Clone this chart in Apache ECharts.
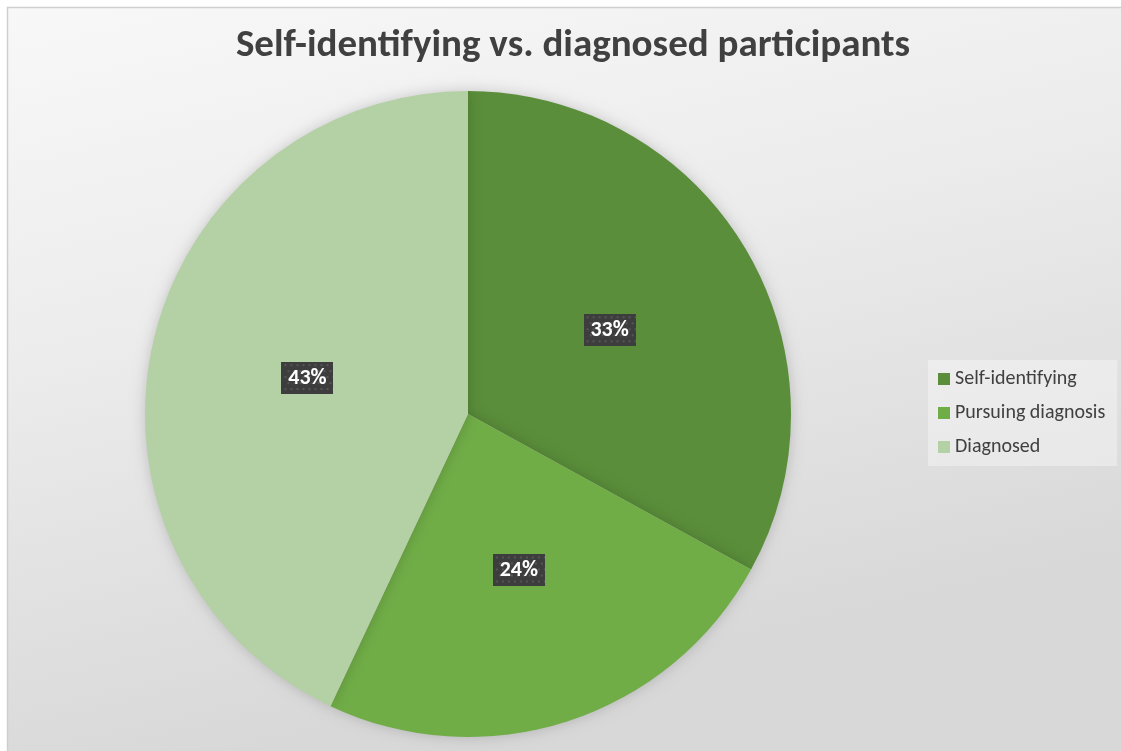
<!DOCTYPE html>
<html>
<head>
<meta charset="utf-8">
<script src="https://cdn.jsdelivr.net/npm/echarts@6/dist/echarts.min.js"></script>
<style>
html,body{margin:0;padding:0;background:#ffffff;}
#chart{width:1121px;height:751px;}
</style>
</head>
<body>
<div id="chart"></div>
<script>
const titleText = 'Self-identifying vs. diagnosed participants';
const categories = ['Self-identifying', 'Pursuing diagnosis', 'Diagnosed'];
const values = [33, 24, 43];
const colors = ['#5A8E3A', '#70AD47', '#B4D0A5'];

function dotPattern(w, h) {
  const c = document.createElement('canvas');
  c.width = w; c.height = h;
  const ctx = c.getContext('2d');
  ctx.fillStyle = '#3d3d3d';
  ctx.fillRect(0, 0, w, h);
  ctx.fillStyle = '#565656';
  for (let y = 2; y < h; y += 6) {
    for (let x = 2 + ((y / 6) % 2) * 3; x < w; x += 6) {
      ctx.fillRect(x, y, 2, 2);
    }
  }
  return c.toDataURL();
}
const labelBg = dotPattern(52, 32);

const chart = echarts.init(document.getElementById('chart'), null, {renderer: 'canvas'});
const option = {
  animation: false,
  backgroundColor: '#ffffff',
  graphic: [{
    type: 'rect',
    z: -10,
    silent: true,
    shape: {x: 7.5, y: 7.5, width: 1130, height: 760},
    style: {
      stroke: '#cfcfcf',
      lineWidth: 1.5,
      fill: {
        type: 'linear', x: 0, y: 0, x2: 0.15, y2: 1,
        colorStops: [
          {offset: 0, color: '#f8f8f8'},
          {offset: 0.45, color: '#ececec'},
          {offset: 1, color: '#d8d8d8'}
        ]
      }
    }
  }],
  title: {
    text: titleText,
    left: 568,
    textAlign: 'center',
    top: 22,
    textStyle: {
      fontFamily: 'Carlito, Lato, sans-serif',
      fontWeight: 'bold',
      fontSize: 39,
      color: '#404040'
    }
  },
  legend: {
    orient: 'vertical',
    left: 928,
    top: 360,
    padding: [9, 12, 9, 10],
    backgroundColor: 'rgba(255,255,255,0.35)',
    itemWidth: 12,
    itemHeight: 12,
    itemGap: 14,
    icon: 'rect',
    data: categories,
    textStyle: {
      fontFamily: 'Carlito, Lato, sans-serif',
      fontSize: 20,
      color: '#404040'
    }
  },
  series: [{
    type: 'pie',
    center: [468, 414],
    radius: 323,
    startAngle: 90,
    clockwise: true,
    color: colors,
    itemStyle: {
      shadowBlur: 14,
      shadowColor: 'rgba(0,0,0,0.18)'
    },
    label: {
      position: 'inside',
      fontFamily: 'Carlito, Lato, sans-serif',
      fontWeight: 'bold',
      fontSize: 22,
      lineHeight: 22,
      color: '#ffffff',
      backgroundColor: {image: labelBg},
      padding: [5, 6],
      width: 40,
      align: 'center',
      shadowColor: 'rgba(0,0,0,0.45)',
      shadowBlur: 5,
      shadowOffsetX: 3,
      shadowOffsetY: 3
    },
    labelLine: {show: false},
    emphasis: {disabled: true},
    data: categories.map((n, i) => ({name: n, value: values[i]}))
  }]
};
option.series[0].label.formatter = p => Math.round(p.percent) + '%';
chart.setOption(option);
</script>
</body>
</html>
